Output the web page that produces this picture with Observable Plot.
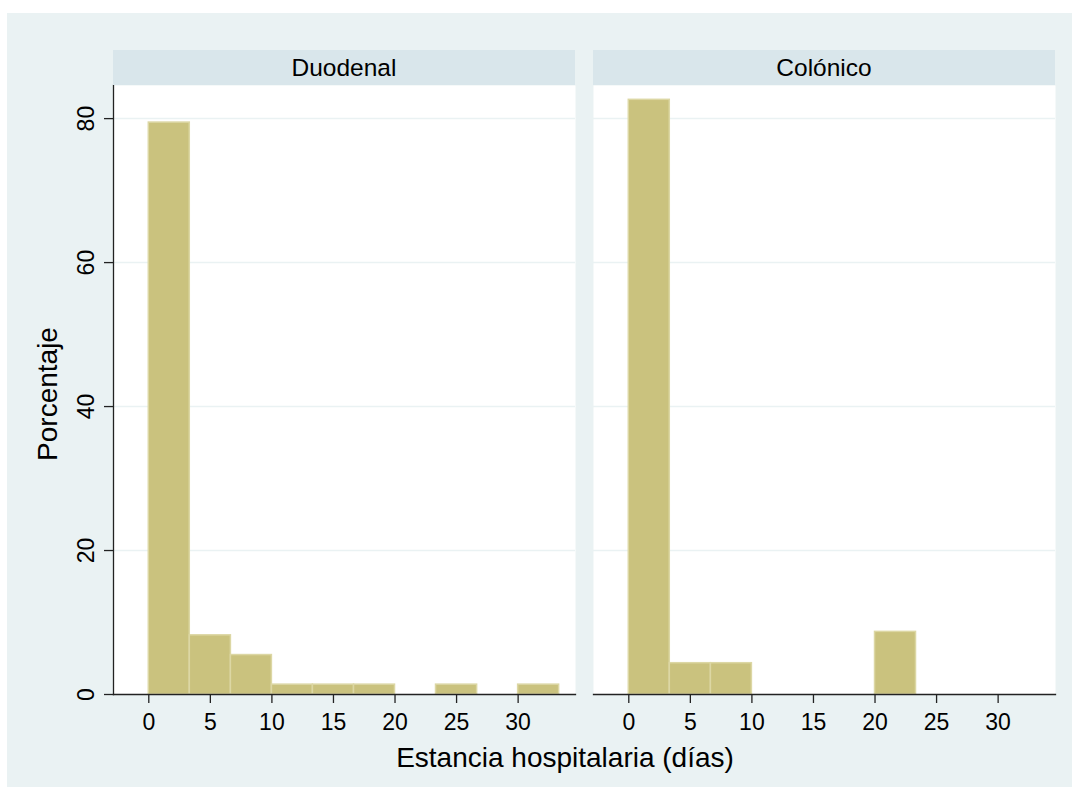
<!DOCTYPE html>
<html>
<head>
<meta charset="utf-8">
<script src="https://cdn.jsdelivr.net/npm/d3@7"></script>
<script src="https://cdn.jsdelivr.net/npm/@observablehq/plot@0.6"></script>
<style>
  html, body { margin: 0; padding: 0; background: #fff; }
  #wrap { position: relative; width: 1079px; height: 794px; overflow: hidden; font-family: "Liberation Sans", Arial, sans-serif; }
  #bg { position: absolute; left: 7px; top: 13px; width: 1065px; height: 774px; background: #eaf2f3; }
  #chart { position: absolute; left: 0; top: 0; }
  .strip { position: absolute; top: 50px; height: 35px; background: #d9e6eb; color: #000; font-size: 24.5px; line-height: 36px; text-align: center; }
  .title { position: absolute; color: #000; font-size: 28px; white-space: nowrap; }
</style>
</head>
<body>
<div id="wrap">
  <div id="bg"></div>
  <div id="chart"></div>
</div>
<script>
// Data
const groups = ["Duodenal", "Colónico"];
const binStart = [0, 3.33, 6.67, 10, 13.33, 16.67, 20, 23.33, 26.67, 30];
const binEnd   = [3.33, 6.67, 10, 13.33, 16.67, 20, 23.33, 26.67, 30, 33.33];
const duodenal = [79.45, 8.22, 5.48, 1.37, 1.37, 1.37, 0, 1.37, 0, 1.37];
const colonico = [82.61, 4.35, 4.35, 0, 0, 0, 8.70, 0, 0, 0];
const xTicks = [0, 5, 10, 15, 20, 25, 30];
const yTicks = [0, 20, 40, 60, 80];
const yGrid = [20, 40, 60, 80];
const xLabel = "Estancia hospitalaria (días)";
const yLabel = "Porcentaje";

const rows = [];
[duodenal, colonico].forEach((vals, gi) => {
  vals.forEach((v, i) => {
    if (v > 0) rows.push({group: groups[gi], x1: binStart[i], x2: binEnd[i], pct: v});
  });
});

const W = 1079, H = 794;
const mL = 113, mR = 24, mT = 85, mB = 100;
const gap = 18;
const step = (W - mL - mR + gap) / 2;

const chart = Plot.plot({
  width: W,
  height: H,
  marginLeft: mL,
  marginRight: mR,
  marginTop: mT,
  marginBottom: mB,
  style: {background: "transparent", fontFamily: "'Liberation Sans', Arial, sans-serif", color: "#000"},
  fx: {domain: groups, paddingInner: gap / step, paddingOuter: 0, axis: null, label: null},
  x: {domain: [-2.867, 34.66], label: null},
  y: {domain: [0, 84.6], label: null},
  marks: [
    Plot.frame({fill: "#fff", stroke: null}),
    Plot.gridY(yGrid, {stroke: "#eaf2f3", strokeOpacity: 1, strokeWidth: 1.5}),
    Plot.rect(rows, {x1: "x1", x2: "x2", y1: 0, y2: "pct", fx: "group", fill: "#cac27e", stroke: "#dcd7a4", strokeWidth: 1.5}),
    Plot.frame({anchor: "bottom", stroke: "#222", strokeWidth: 1.3}),
    Plot.frame({anchor: "left", stroke: "#222", strokeWidth: 1.3, facetAnchor: "left"}),
    Plot.axisX({ticks: xTicks, tickSize: 9, tickPadding: 10, fontSize: 23, stroke: "#222", strokeWidth: 1.3, label: null}),
    Plot.axisY({ticks: yTicks, tickSize: 9, tickPadding: 11, fontSize: 23, tickRotate: -90, textAnchor: "middle", lineAnchor: "bottom", stroke: "#222", strokeWidth: 1.3, label: null})
  ]
});
document.getElementById("chart").appendChild(chart);

const wrap = document.getElementById("wrap");
groups.forEach((g, i) => {
  const d = document.createElement("div");
  d.className = "strip";
  d.style.left = (mL + i * step) + "px";
  d.style.width = (step - gap) + "px";
  d.textContent = g;
  wrap.appendChild(d);
});

const xt = document.createElement("div");
xt.className = "title";
xt.textContent = xLabel;
xt.style.left = "565px";
xt.style.top = "742px";
xt.style.transform = "translateX(-50%)";
wrap.appendChild(xt);

const yt = document.createElement("div");
yt.className = "title";
yt.textContent = yLabel;
yt.style.left = "48px";
yt.style.top = "394px";
yt.style.transform = "translate(-50%, -50%) rotate(-90deg)";
wrap.appendChild(yt);
</script>
</body>
</html>
